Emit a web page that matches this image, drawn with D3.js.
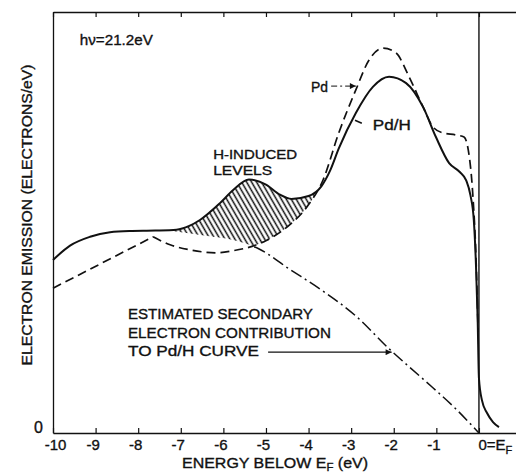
<!DOCTYPE html>
<html>
<head>
<meta charset="utf-8">
<script src="https://cdn.jsdelivr.net/npm/d3@7"></script>
<style>
body { margin: 0; background: #fff; }
text { font-family: "Liberation Sans", Arial, sans-serif; fill: #111; stroke: #111; stroke-width: 0.35px; }
</style>
</head>
<body>
<div id="chart"></div>
<script>
// energy below E_F (eV) and emission (arbitrary units, 0..100)
var xTicks = [-10, -9, -8, -7, -6, -5, -4, -3, -2, -1, 0];
var xTickLabels = ["-10", "-9", "-8", "-7", "-6", "-5", "-4", "-3", "-2", "-1", "0=E"];
var yTicks = [0];

var pdH = [
    [-10, 41.1], [-9.6, 44.5], [-9.13, 46.6], [-8.66, 47.7], [-8.2, 48.0], [-7.6, 48.1],
    [-7.1, 48.3], [-6.8, 49.2], [-6.55, 50.6], [-6.08, 54.6], [-5.77, 57.7], [-5.4, 60.2],
    [-5.0, 59.0], [-4.67, 56.6], [-4.4, 55.6], [-4.0, 56.3], [-3.7, 58.6], [-3.5, 62.2],
    [-3.29, 67.6], [-2.89, 76.0], [-2.49, 82.2], [-2.11, 84.6], [-1.71, 83.1], [-1.31, 77.4],
    [-1.01, 70.3], [-0.70, 64.1], [-0.45, 62.0], [-0.3, 60.0], [-0.2, 56.5], [-0.12, 50.5],
    [-0.07, 40.0], [-0.03, 27.0], [0.0, 13.0], [0.07, 7.8], [0.19, 4.75], [0.33, 2.6], [0.47, 1.4]
];

var pdLow = [[-10, 34.4], [-7.65, 46.6]];
var pd = [
    [-7.65, 46.6], [-7.25, 44.7], [-6.78, 43.5], [-6.15, 42.8], [-5.77, 43.3], [-5.31, 44.4],
    [-4.98, 45.8], [-4.51, 48.9], [-4.04, 53.7], [-3.66, 60.1], [-3.29, 71.3], [-2.89, 81.5],
    [-2.58, 88.6], [-2.25, 91.4], [-1.95, 90.3], [-1.64, 84.6], [-1.31, 77.4], [-1.08, 72.7],
    [-0.85, 71.3], [-0.54, 70.8], [-0.35, 70.3], [-0.25, 67.2], [-0.14, 56.0], [-0.07, 42.0],
    [-0.02, 24.0]
];

var secondary = [
    [-7.3, 48.1], [-6.5, 47.0], [-5.8, 45.9], [-5.16, 43.7], [-4.46, 39.0], [-3.66, 33.7],
    [-2.89, 27.8], [-2.11, 20.0], [-1.31, 12.8], [-0.54, 5.7], [0, 0]
];
var secondaryShownFrom = -5.35;
var hatchRange = [-7.3, -3.5];

var width = 516, height = 475;
var x = d3.scaleLinear().domain([-10, 0.87]).range([53, 516]);
var y = d3.scaleLinear().domain([0, 100]).range([433, 12]);

var svg = d3.select("#chart").append("svg")
    .attr("width", width).attr("height", height)
    .style("background", "#fff");

var defs = svg.append("defs");
defs.append("pattern")
    .attr("id", "hatch")
    .attr("patternUnits", "userSpaceOnUse")
    .attr("width", 4.3).attr("height", 4.3)
    .attr("patternTransform", "rotate(-30)")
    .append("line")
    .attr("x1", 2.15).attr("y1", 0).attr("x2", 2.15).attr("y2", 4.3)
    .attr("stroke", "#111").attr("stroke-width", 1.5);

defs.append("marker")
    .attr("id", "arrow")
    .attr("viewBox", "0 0 10 10")
    .attr("refX", 10).attr("refY", 5)
    .attr("markerWidth", 8).attr("markerHeight", 6)
    .attr("markerUnits", "userSpaceOnUse")
    .attr("orient", "auto")
    .append("path").attr("d", "M0,0L10,5L0,10Z").attr("fill", "#111");

var curve = d3.curveMonotoneX;
var line = d3.line().x(d => x(d[0])).y(d => y(d[1])).curve(curve);
var under = d3.area().x(d => x(d[0])).y0(y(0) + 5).y1(d => y(d[1])).curve(curve);

// hatched "H-induced" region: below Pd/H, above Pd and above the secondary curve
var mask = defs.append("mask").attr("id", "hmask");
mask.append("rect").attr("width", width).attr("height", height).attr("fill", "#fff");
mask.append("path").attr("d", under(pd)).attr("fill", "#000");
mask.append("path").attr("d", under(secondary)).attr("fill", "#000");

defs.append("clipPath").attr("id", "hclip")
    .append("rect")
    .attr("x", x(hatchRange[0])).attr("y", 0)
    .attr("width", x(hatchRange[1]) - x(hatchRange[0])).attr("height", height);

defs.append("clipPath").attr("id", "sclip")
    .append("rect")
    .attr("x", x(secondaryShownFrom)).attr("y", 0)
    .attr("width", width).attr("height", height);

svg.append("g").attr("clip-path", "url(#hclip)")
    .append("path")
    .attr("d", under(pdH))
    .attr("fill", "url(#hatch)")
    .attr("mask", "url(#hmask)");

// axes
var bottom = svg.append("g")
    .attr("transform", "translate(0," + y(0) + ")")
    .call(d3.axisBottom(x).tickValues(xTicks).tickSizeInner(-5).tickSizeOuter(0)
        .tickPadding(6).tickFormat((d, i) => xTickLabels[i]));
bottom.selectAll("text")
    .style("font-size", "15px")
    .style("font-family", "'Liberation Sans', Arial, sans-serif")
    .attr("dx", d => d === -10 ? 2 : -3);

var lastTick = bottom.selectAll("g.tick").filter(d => d === 0).select("text");
lastTick.attr("text-anchor", "start").attr("dx", -1);
lastTick.append("tspan").attr("dy", "4").style("font-size", "11px").text("F");

svg.append("g")
    .attr("transform", "translate(0," + y(100) + ")")
    .call(d3.axisTop(x).tickValues(xTicks).tickSizeInner(-5).tickSizeOuter(0).tickFormat(""));

svg.append("g")
    .attr("transform", "translate(" + x(-10) + ",0)")
    .call(d3.axisLeft(y).tickValues(yTicks).tickSize(0).tickFormat(""));

svg.selectAll(".y0").data(yTicks).enter().append("text")
    .attr("x", x(-10) - 10).attr("y", d => y(d))
    .attr("text-anchor", "end")
    .style("font-size", "16px")
    .text(d => d);

svg.selectAll(".domain").attr("stroke", "#111").attr("stroke-width", 1.3);
svg.selectAll(".tick line").attr("stroke", "#111").attr("stroke-width", 1.2);

// E_F line
svg.append("line")
    .attr("x1", x(0)).attr("x2", x(0))
    .attr("y1", y(100)).attr("y2", y(0))
    .attr("stroke", "#111").attr("stroke-width", 1.4);

// curves
svg.append("path").attr("d", line(secondary))
    .attr("clip-path", "url(#sclip)")
    .attr("fill", "none").attr("stroke", "#111").attr("stroke-width", 1.5)
    .attr("stroke-dasharray", "12,4,2,4");

svg.append("path").attr("d", d3.line().x(d => x(d[0])).y(d => y(d[1]))(pdLow))
    .attr("fill", "none").attr("stroke", "#111").attr("stroke-width", 1.7)
    .attr("stroke-dasharray", "9,5");
svg.append("path").attr("d", line(pd))
    .attr("fill", "none").attr("stroke", "#111").attr("stroke-width", 1.7)
    .attr("stroke-dasharray", "9,5");

svg.append("path").attr("d", line(pdH))
    .attr("fill", "none").attr("stroke", "#111").attr("stroke-width", 2);

// annotations
function label(t, ex, ev, len, size) {
    var s = svg.append("text").attr("x", x(ex)).attr("y", y(ev))
        .style("font-size", (size || 15) + "px").text(t);
    if (len) s.attr("textLength", len).attr("lengthAdjust", "spacingAndGlyphs");
    return s;
}

label("h\u03bd=21.2eV", -9.37, 92.2, 73);
label("Pd", -3.94, 81.0, 17);
label("Pd/H", -2.49, 72.0, 38);
label("H-INDUCED", -6.24, 65.0, 84, 13.5);
label("LEVELS", -6.24, 61.2, 59, 13.5);
label("ESTIMATED SECONDARY", -8.24, 27.1, 185);
label("ELECTRON CONTRIBUTION", -8.24, 22.6, 203);
label("TO Pd/H CURVE", -8.24, 18.3, 131);

svg.append("line")
    .attr("x1", x(-3.47)).attr("x2", x(-2.89))
    .attr("y1", y(82.4)).attr("y2", y(82.4))
    .attr("stroke", "#111").attr("stroke-width", 1)
    .attr("stroke-dasharray", "6,3,2,3")
    .attr("marker-end", "url(#arrow)");

svg.append("line")
    .attr("x1", x(-2.91)).attr("x2", x(-2.75))
    .attr("y1", y(74.3)).attr("y2", y(73.6))
    .attr("stroke", "#111").attr("stroke-width", 1.6);

svg.append("line")
    .attr("x1", x(-4.95)).attr("x2", x(-2.05))
    .attr("y1", y(19.2)).attr("y2", y(19.2))
    .attr("stroke", "#111").attr("stroke-width", 1.1)
    .attr("marker-end", "url(#arrow)");

// axis titles
var xt = svg.append("text")
    .attr("x", 182).attr("y", 467.5)
    .attr("textLength", 186).attr("lengthAdjust", "spacingAndGlyphs")
    .style("font-size", "14px")
    .text("ENERGY BELOW E");
xt.append("tspan").attr("dy", 3).style("font-size", "10px").text("F");
xt.append("tspan").attr("dy", -3).text(" (eV)");

svg.append("text")
    .attr("transform", "rotate(-90)")
    .attr("x", -215).attr("y", 32)
    .attr("text-anchor", "middle")
    .attr("textLength", 301).attr("lengthAdjust", "spacingAndGlyphs")
    .style("font-size", "15px")
    .text("ELECTRON EMISSION (ELECTRONS/eV)");
</script>
</body>
</html>
